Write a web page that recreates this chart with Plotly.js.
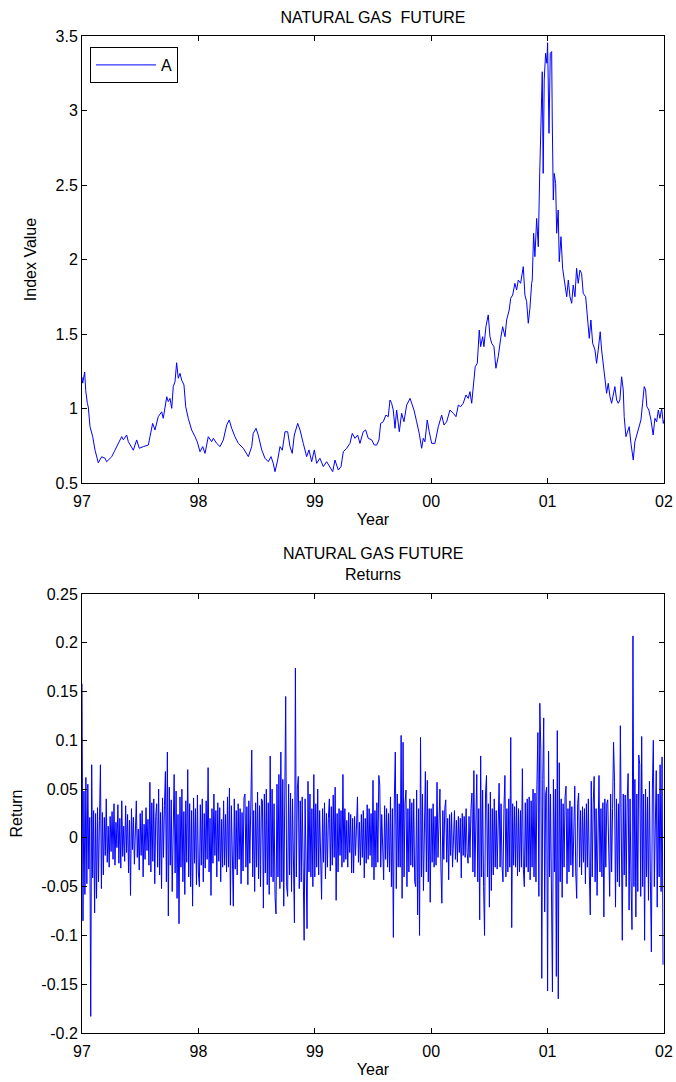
<!DOCTYPE html>
<html>
<head>
<meta charset="utf-8">
<script src="https://cdn.plot.ly/plotly-3.0.1.min.js"></script>
<style>html,body{margin:0;padding:0;background:#fff;}#chart{width:676px;height:1082px;}</style>
</head>
<body>
<div id="chart"></div>
<script>
// ---- Index series (decimal year, value) ----
const indexYears = [
1997.000,1997.006,1997.023,1997.032,1997.046,1997.054,1997.069,1997.092,1997.112,1997.126,
1997.140,1997.169,1997.198,1997.212,1997.255,1997.283,1997.312,1997.341,1997.355,1997.384,
1997.398,1997.427,1997.441,1997.470,1997.492,1997.527,1997.570,1997.584,1997.607,1997.627,
1997.655,1997.685,1997.698,1997.728,1997.741,1997.756,1997.771,1997.784,1997.799,1997.813,
1997.827,1997.842,1997.856,1997.876,1997.891,1997.913,1997.942,1997.971,1997.990,1998.014,
1998.037,1998.057,1998.085,1998.114,1998.128,1998.157,1998.186,1998.214,1998.243,1998.265,
1998.286,1998.314,1998.343,1998.386,1998.429,1998.458,1998.471,1998.495,1998.514,1998.544,
1998.572,1998.600,1998.624,1998.643,1998.658,1998.681,1998.701,1998.721,1998.744,1998.767,
1998.787,1998.806,1998.824,1998.853,1998.873,1998.901,1998.930,1998.950,1998.973,1998.996,
1999.016,1999.044,1999.073,1999.102,1999.130,1999.154,1999.173,1999.202,1999.225,1999.245,
1999.274,1999.302,1999.322,1999.345,1999.368,1999.388,1999.416,1999.437,1999.459,1999.489,
1999.511,1999.532,1999.551,1999.566,1999.588,1999.611,1999.631,1999.646,1999.660,1999.674,
1999.689,1999.703,1999.726,1999.746,1999.766,1999.789,1999.818,1999.832,1999.852,1999.875,
1999.897,1999.918,1999.932,1999.946,1999.966,1999.983,2000.004,2000.032,2000.061,2000.090,
2000.110,2000.133,2000.161,2000.190,2000.213,2000.233,2000.253,2000.275,2000.299,2000.318,
2000.333,2000.348,2000.361,2000.378,2000.396,2000.404,2000.413,2000.425,2000.442,2000.453,
2000.470,2000.490,2000.505,2000.519,2000.539,2000.556,2000.576,2000.597,2000.614,2000.634,
2000.648,2000.670,2000.683,2000.700,2000.719,2000.734,2000.748,2000.768,2000.791,2000.805,
2000.820,2000.834,2000.848,2000.863,2000.868,2000.880,2000.891,2000.906,2000.920,2000.932,
2000.943,2000.954,2000.962,2000.971,2000.983,2000.994,2001.000,2001.006,2001.012,2001.023,
2001.035,2001.040,2001.049,2001.057,2001.069,2001.078,2001.091,2001.100,2001.115,2001.129,
2001.149,2001.164,2001.178,2001.192,2001.207,2001.220,2001.235,2001.249,2001.263,2001.278,
2001.292,2001.306,2001.327,2001.344,2001.358,2001.372,2001.387,2001.407,2001.421,2001.435,
2001.452,2001.464,2001.478,2001.493,2001.507,2001.521,2001.536,2001.550,2001.564,2001.578,
2001.593,2001.607,2001.621,2001.636,2001.650,2001.658,2001.673,2001.688,2001.701,2001.716,
2001.736,2001.750,2001.768,2001.785,2001.802,2001.816,2001.830,2001.842,2001.853,2001.870,
2001.888,2001.907,2001.922,2001.937,2001.951,2001.965,2001.980,2001.994,2002.000
];
const indexValues = [
1.21,1.17,1.245,1.12,1.035,1.01,0.878,0.811,0.72,0.676,
0.636,0.676,0.666,0.643,0.676,0.72,0.766,0.811,0.79,0.822,
0.777,0.744,0.72,0.789,0.733,0.744,0.755,0.811,0.9,0.856,
0.945,0.978,0.934,1.079,1.046,1.068,1.001,1.147,1.18,1.307,
1.203,1.236,1.191,1.158,1.012,0.934,0.856,0.811,0.777,0.71,
0.744,0.699,0.811,0.777,0.8,0.766,0.744,0.789,0.889,0.923,
0.867,0.811,0.766,0.733,0.677,0.744,0.833,0.867,0.822,0.722,
0.666,0.643,0.677,0.632,0.576,0.654,0.744,0.72,0.844,0.844,
0.744,0.699,0.822,0.9,0.856,0.766,0.677,0.722,0.643,0.722,
0.632,0.666,0.61,0.643,0.61,0.576,0.654,0.587,0.61,0.71,
0.733,0.766,0.833,0.8,0.822,0.766,0.844,0.856,0.8,0.789,
0.755,0.755,0.789,0.9,0.911,0.956,0.945,1.057,1.035,0.99,
0.867,0.99,0.844,0.968,0.911,1.023,1.068,1.035,0.99,0.911,
0.833,0.733,0.8,0.777,0.923,0.844,0.766,0.766,0.878,0.956,
0.889,0.911,0.99,0.968,0.945,1.023,1.012,1.035,1.091,1.068,
1.113,1.035,1.169,1.28,1.303,1.46,1.527,1.415,1.482,1.415,
1.549,1.628,1.482,1.438,1.415,1.27,1.348,1.471,1.549,1.482,
1.594,1.661,1.739,1.762,1.84,1.795,1.862,1.84,1.952,1.762,
1.717,1.572,1.672,1.84,1.862,2.176,2.019,2.276,2.086,2.567,
2.948,3.26,2.578,3.205,3.384,3.317,3.455,3.216,2.847,3.384,
3.395,2.936,2.399,2.578,2.511,2.176,2.332,1.985,2.153,1.941,
1.84,1.75,1.862,1.75,1.706,1.829,1.75,1.941,1.84,1.929,
1.907,1.773,1.75,1.572,1.471,1.594,1.438,1.393,1.303,1.393,
1.515,1.393,1.303,1.169,1.102,1.169,1.079,1.035,1.091,1.147,
1.057,1.035,1.057,1.213,1.124,0.945,0.811,0.856,0.878,0.766,
0.654,0.777,0.833,0.878,0.923,1.035,1.147,1.124,1.012,0.99,
0.923,0.822,0.934,0.911,0.99,0.934,1.001,0.9,0.92
];

// ---- Returns, one array per calendar year (evenly spaced through the year) ----
const returns1997 = [
0.158,-0.085,0.048,-0.058,0.062,-0.047,0.055,-0.032,0.021,-0.183,
0.075,-0.041,0.028,-0.077,0.025,-0.062,0.031,-0.045,0.018,0.075,
-0.052,0.026,-0.038,0.021,-0.018,0.040,-0.025,0.012,-0.030,0.022,
-0.014,0.027,-0.022,0.035,-0.028,0.016,-0.010,0.034,-0.026,0.020,
-0.031,0.038,-0.019,0.012,-0.024,0.033,-0.015,0.024,-0.036,0.018,
-0.059,0.030,-0.012,0.021,-0.027,0.015,0.038,-0.020,0.009,-0.033,
0.025,-0.018,0.028,-0.040,0.014,-0.022,0.031,-0.013,0.019,-0.028,
0.057,-0.035,0.036,-0.024,0.040,-0.047,0.022,0.035,-0.030,0.050,
-0.038,0.026,-0.052,0.041,-0.020,0.033,0.068,-0.045,0.088,-0.080,
0.052,-0.028,0.039,-0.055,0.030,0.065,-0.036,0.048,-0.062,0.024,
-0.088,0.042,-0.030,0.050,-0.045,0.027,-0.058,0.038,-0.025,0.070,
-0.040,0.035,-0.050,0.028,-0.070,0.041,-0.026,0.030,-0.048,0.044
];
const returns1998 = [
-0.036,-0.050,0.034,-0.028,0.040,-0.045,0.025,-0.031,0.038,-0.022,
0.072,-0.035,0.020,-0.059,0.030,-0.026,0.045,-0.018,0.028,-0.040,
0.036,-0.024,0.031,-0.045,0.019,-0.030,0.038,-0.028,0.024,-0.035,
0.042,-0.030,0.051,-0.069,0.033,-0.025,-0.070,0.040,-0.032,0.028,
-0.038,0.035,-0.022,0.030,-0.047,0.026,-0.034,0.041,0.045,-0.030,
0.032,-0.048,0.038,-0.026,0.043,0.090,-0.040,0.028,-0.055,0.036,
-0.030,0.047,-0.042,0.033,-0.050,0.040,0.038,-0.072,0.045,-0.036,
0.050,-0.048,0.036,-0.058,0.084,-0.040,0.050,-0.045,0.035,-0.060,
-0.078,0.055,-0.040,0.065,-0.052,0.088,-0.045,0.060,-0.070,0.048,
0.145,-0.050,-0.060,0.055,-0.038,0.046,-0.055,0.040,-0.048,-0.087,
0.174,-0.040,0.050,0.063,-0.052,0.038,-0.045,0.042,-0.030,-0.105,
0.040,-0.048,-0.093,0.058,-0.035,0.045,-0.040,0.030,-0.050,0.065
];
const returns1999 = [
-0.040,0.035,-0.030,0.050,-0.038,0.028,-0.032,-0.063,0.030,-0.025,
0.036,-0.042,0.025,-0.030,0.020,0.040,-0.034,0.032,-0.028,0.044,
-0.020,0.052,-0.064,0.025,-0.035,0.030,-0.018,0.028,-0.030,0.065,
-0.025,0.030,-0.022,0.018,-0.030,0.026,-0.015,0.024,-0.036,0.020,
-0.036,0.022,-0.018,0.030,0.042,-0.025,0.016,-0.028,0.024,-0.020,
0.028,-0.041,0.020,-0.026,0.034,-0.022,0.030,-0.018,0.025,-0.030,
0.059,-0.043,0.028,-0.030,0.036,-0.025,0.064,0.054,-0.030,0.024,
-0.028,-0.043,0.033,-0.022,0.030,-0.030,0.025,-0.035,0.042,-0.050,
0.030,-0.102,0.040,0.088,-0.052,0.045,-0.030,0.035,-0.030,0.105,
-0.062,0.098,-0.040,0.035,0.049,-0.050,0.030,-0.035,0.040,-0.028,
0.036,-0.030,0.040,-0.045,-0.050,0.049,-0.079,0.030,-0.100,0.103,
-0.040,0.045,-0.054,0.030,0.068,-0.035,0.059,-0.045,0.030,-0.066
];
const returns2000 = [
0.030,-0.025,0.035,-0.030,0.022,-0.028,0.057,-0.020,0.026,0.050,
-0.030,-0.067,0.028,-0.022,0.030,0.039,-0.025,0.020,-0.043,0.024,
-0.018,0.026,-0.030,0.015,0.028,-0.022,0.018,-0.025,0.022,-0.015,
0.020,-0.041,0.025,-0.018,0.022,-0.020,0.030,-0.015,-0.026,0.022,
-0.020,0.030,0.046,-0.035,0.069,-0.040,0.035,0.065,-0.045,0.030,
-0.084,0.084,-0.040,0.049,-0.050,-0.100,0.045,0.064,-0.040,0.035,
-0.071,0.047,-0.054,0.030,-0.038,0.040,-0.030,0.028,-0.032,0.035,
0.056,-0.030,0.035,-0.028,-0.045,0.030,0.064,-0.040,0.030,-0.035,
0.040,-0.030,0.103,-0.092,0.035,-0.028,0.032,-0.030,0.038,-0.039,
0.030,-0.035,0.028,-0.030,0.071,-0.032,-0.050,0.036,-0.030,0.040,
-0.035,0.042,-0.043,0.038,-0.030,0.050,-0.040,0.046,-0.045,0.055,
0.108,-0.060,0.138,0.091,-0.144,0.060,0.123,-0.076,0.045,0.052
];
const returns2001 = [
-0.157,0.089,-0.040,0.045,-0.050,-0.158,0.060,-0.035,0.050,-0.142,
0.110,-0.165,0.077,-0.045,0.040,-0.061,0.035,-0.030,0.042,0.053,
-0.047,0.030,-0.035,0.038,-0.028,0.032,-0.040,0.030,0.053,-0.035,
-0.062,0.035,0.046,-0.030,0.028,-0.038,0.032,-0.025,0.030,-0.047,
0.035,-0.030,0.040,-0.035,-0.079,0.058,-0.040,0.035,0.063,-0.045,
0.030,-0.059,0.040,0.064,-0.035,0.030,-0.040,0.036,-0.081,0.040,
-0.030,0.035,0.039,-0.040,-0.060,0.045,-0.035,0.030,0.098,0.058,
-0.071,0.040,-0.045,0.035,-0.050,0.115,-0.040,-0.105,0.045,-0.038,
0.044,-0.050,0.036,0.066,-0.074,0.040,-0.045,-0.094,0.207,-0.050,
0.060,-0.081,0.045,-0.055,0.085,0.075,-0.060,0.104,-0.050,0.045,
-0.105,0.050,-0.040,0.042,-0.064,0.058,-0.045,-0.117,0.050,0.100,
-0.050,0.040,0.069,-0.071,0.045,-0.040,0.075,-0.055,0.083,-0.130
];
const returnYears = [1997, 1998, 1999, 2000, 2001];
const returnSeries = [returns1997, returns1998, returns1999, returns2000, returns2001];

// ---- Tick labels ----
const xTickVals = [1997, 1998, 1999, 2000, 2001, 2002];
const xTickText = ['97', '98', '99', '00', '01', '02'];
const retTickVals = [-0.2, -0.15, -0.1, -0.05, 0, 0.05, 0.1, 0.15, 0.2, 0.25];
const retTickText = ['-0.2', '-0.15', '-0.1', '-0.05', '0', '0.05', '0.1', '0.15', '0.2', '0.25'];

// build return x (trading days spread evenly through each year)
const retX = [], retY = [];
returnSeries.forEach((arr, k) => {
  arr.forEach((v, i) => { retX.push(returnYears[k] + i / arr.length); retY.push(v); });
});

const W = 676, H = 1082;
const FONT = {family: 'Arial, "Liberation Sans", Helvetica, sans-serif', size: 16, color: '#000'};
const xd = [82 / W, 664 / W];
const ytop = [1 - 483 / H, 1 - 36 / H];
const ybot = [1 - 1033 / H, 1 - 594 / H];

const axisCommon = {
  showline: true, linecolor: '#000', linewidth: 1, mirror: 'allticks',
  ticks: 'inside', ticklen: 5, tickcolor: '#000', tickwidth: 1,
  showgrid: false, zeroline: false, tickfont: FONT, fixedrange: true
};

const traces = [
  {x: indexYears, y: indexValues, type: 'scatter', mode: 'lines', name: 'A',
   line: {color: '#0000ff', width: 1}, xaxis: 'x', yaxis: 'y'},
  {x: retX, y: retY, type: 'scatter', mode: 'lines', name: 'Return', showlegend: false,
   line: {color: '#0000ff', width: 1}, xaxis: 'x2', yaxis: 'y2'}
];

const layout = {
  width: W, height: H,
  margin: {l: 0, r: 0, t: 0, b: 0},
  paper_bgcolor: '#fff', plot_bgcolor: '#fff',
  font: FONT,
  title: {text: 'NATURAL GAS\u00a0 FUTURE', font: FONT, x: 373 / W, xanchor: 'center',
          y: 1 - 17 / H, yanchor: 'middle', xref: 'paper', yref: 'container'},
  showlegend: true,
  legend: {x: 90 / W, y: 1 - 47 / H, xanchor: 'left', yanchor: 'top', xref: 'paper', yref: 'paper',
           bgcolor: '#fff', bordercolor: '#000', borderwidth: 1, font: FONT, itemwidth: 60,
           tracegroupgap: 0},
  xaxis: Object.assign({}, axisCommon, {domain: xd, anchor: 'y', range: [1997, 2002],
    tickmode: 'array', tickvals: xTickVals, ticktext: xTickText, ticklabelstandoff: 4,
    title: {text: 'Year', font: FONT, standoff: 4}}),
  yaxis: Object.assign({}, axisCommon, {domain: ytop, anchor: 'x', range: [0.5, 3.5], dtick: 0.5, tick0: 0.5,
    title: {text: 'Index Value', font: FONT, standoff: 14}}),
  xaxis2: Object.assign({}, axisCommon, {domain: xd, anchor: 'y2', range: [1997, 2002],
    tickmode: 'array', tickvals: xTickVals, ticktext: xTickText, ticklabelstandoff: 4,
    title: {text: 'Year', font: FONT, standoff: 4}}),
  yaxis2: Object.assign({}, axisCommon, {domain: ybot, anchor: 'x2', range: [-0.2, 0.25],
    tickmode: 'array', tickvals: retTickVals, ticktext: retTickText,
    title: {text: 'Return', font: FONT, standoff: 14}}),
  annotations: [
    {text: 'NATURAL GAS FUTURE', xref: 'paper', yref: 'paper', x: 373 / W, y: 1 - 553 / H,
     xanchor: 'center', yanchor: 'middle', showarrow: false, font: FONT},
    {text: 'Returns', xref: 'paper', yref: 'paper', x: 373 / W, y: 1 - 574 / H,
     xanchor: 'center', yanchor: 'middle', showarrow: false, font: FONT}
  ]
};

Plotly.newPlot('chart', traces, layout, {displayModeBar: false, staticPlot: true});
</script>
</body>
</html>
